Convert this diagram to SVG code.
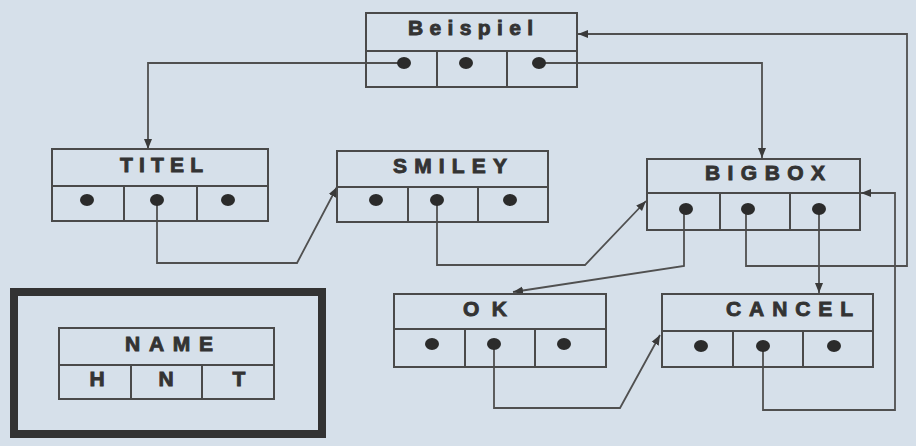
<svg xmlns="http://www.w3.org/2000/svg" width="916" height="446" viewBox="0 0 916 446">
<style>
.bx{fill:none;stroke:#4a4a4a;stroke-width:2}
.ln{fill:none;stroke:#505050;stroke-width:1.8}
.dot{fill:#2b2b2b}
.t{font-family:"Liberation Sans",Arial,sans-serif;font-weight:bold;font-size:21px;fill:#333;stroke:#333;stroke-width:0.9}
</style>
<defs>
<marker id="ah" markerUnits="userSpaceOnUse" markerWidth="10" markerHeight="10" viewBox="0 0 10 10" refX="10" refY="5" orient="auto">
<path d="M0,1 L10,5 L0,9 z" fill="#3a3a3a"/>
</marker>
</defs>
<rect width="916" height="446" fill="#d6e0ea"/>

<g id="connectors">
<path class="ln" d="M404,63 H148 V149" marker-end="url(#ah)"/>
<path class="ln" d="M539,63 H762 V158" marker-end="url(#ah)"/>
<path class="ln" d="M157,200 V263 H297 L337,187" marker-end="url(#ah)"/>
<path class="ln" d="M437,200 V265 H585 L646,201" marker-end="url(#ah)"/>
<path class="ln" d="M684,209 V266 L513,292" marker-end="url(#ah)"/>
<path class="ln" d="M746,209 V266 H907 V34 H578" marker-end="url(#ah)"/>
<path class="ln" d="M819,209 V293" marker-end="url(#ah)"/>
<path class="ln" d="M494,344 V408 H620 L660,335" marker-end="url(#ah)"/>
<path class="ln" d="M763,346 V410 H895 V193 H861" marker-end="url(#ah)"/>
</g>

<g id="Beispiel">
<rect class="bx" x="366" y="13" width="211" height="74"/>
<path class="bx" d="M366,51 H577 M437,51 V87 M507,51 V87"/>
<text class="t" x="408" y="35" textLength="125" lengthAdjust="spacing">Beispiel</text>
<ellipse class="dot" cx="404" cy="63" rx="7" ry="6"/>
<ellipse class="dot" cx="466" cy="63" rx="7" ry="6"/>
<ellipse class="dot" cx="539" cy="63" rx="7" ry="6"/>
</g>

<g id="TITEL">
<rect class="bx" x="52" y="149" width="216" height="72"/>
<path class="bx" d="M52,186 H268 M124,186 V221 M197,186 V221"/>
<text class="t" x="120" y="172" textLength="83" lengthAdjust="spacing">TITEL</text>
<ellipse class="dot" cx="87" cy="200" rx="7" ry="6"/>
<ellipse class="dot" cx="157" cy="200" rx="7" ry="6"/>
<ellipse class="dot" cx="228" cy="200" rx="7" ry="6"/>
</g>

<g id="SMILEY">
<rect class="bx" x="337" y="151" width="211" height="71"/>
<path class="bx" d="M337,187 H548 M408,187 V222 M478,187 V222"/>
<text class="t" x="393" y="173" textLength="114" lengthAdjust="spacing">SMILEY</text>
<ellipse class="dot" cx="376" cy="200" rx="7" ry="6"/>
<ellipse class="dot" cx="437" cy="200" rx="7" ry="6"/>
<ellipse class="dot" cx="510" cy="200" rx="7" ry="6"/>
</g>

<g id="BIGBOX">
<rect class="bx" x="647" y="159" width="213" height="71"/>
<path class="bx" d="M647,193 H860 M720,193 V230 M790,193 V230"/>
<text class="t" x="705" y="180" textLength="120" lengthAdjust="spacing">BIGBOX</text>
<ellipse class="dot" cx="686" cy="209" rx="7" ry="6"/>
<ellipse class="dot" cx="748" cy="209" rx="7" ry="6"/>
<ellipse class="dot" cx="819" cy="209" rx="7" ry="6"/>
</g>

<g id="OK">
<rect class="bx" x="394" y="294" width="212" height="73"/>
<path class="bx" d="M394,329 H606 M465,329 V367 M535,329 V367"/>
<text class="t" x="463" y="316" textLength="44" lengthAdjust="spacing">OK</text>
<ellipse class="dot" cx="432" cy="344" rx="7" ry="6"/>
<ellipse class="dot" cx="494" cy="344" rx="7" ry="6"/>
<ellipse class="dot" cx="564" cy="344" rx="7" ry="6"/>
</g>

<g id="CANCEL">
<rect class="bx" x="662" y="294" width="211" height="73"/>
<path class="bx" d="M662,331 H873 M733,331 V367 M803,331 V367"/>
<text class="t" x="726" y="316" textLength="127" lengthAdjust="spacing">CANCEL</text>
<ellipse class="dot" cx="701" cy="346" rx="7" ry="6"/>
<ellipse class="dot" cx="763" cy="346" rx="7" ry="6"/>
<ellipse class="dot" cx="834" cy="346" rx="7" ry="6"/>
</g>

<g id="legend">
<rect x="14" y="292" width="308" height="142" fill="none" stroke="#333" stroke-width="8"/>
<rect class="bx" x="59" y="328" width="215" height="71"/>
<path class="bx" d="M59,365 H274 M131,365 V399 M202,365 V399"/>
<text class="t" x="125" y="351" textLength="88" lengthAdjust="spacing">NAME</text>
<text class="t" x="97" y="386" text-anchor="middle">H</text>
<text class="t" x="166" y="386" text-anchor="middle">N</text>
<text class="t" x="239" y="386" text-anchor="middle">T</text>
</g>
</svg>
